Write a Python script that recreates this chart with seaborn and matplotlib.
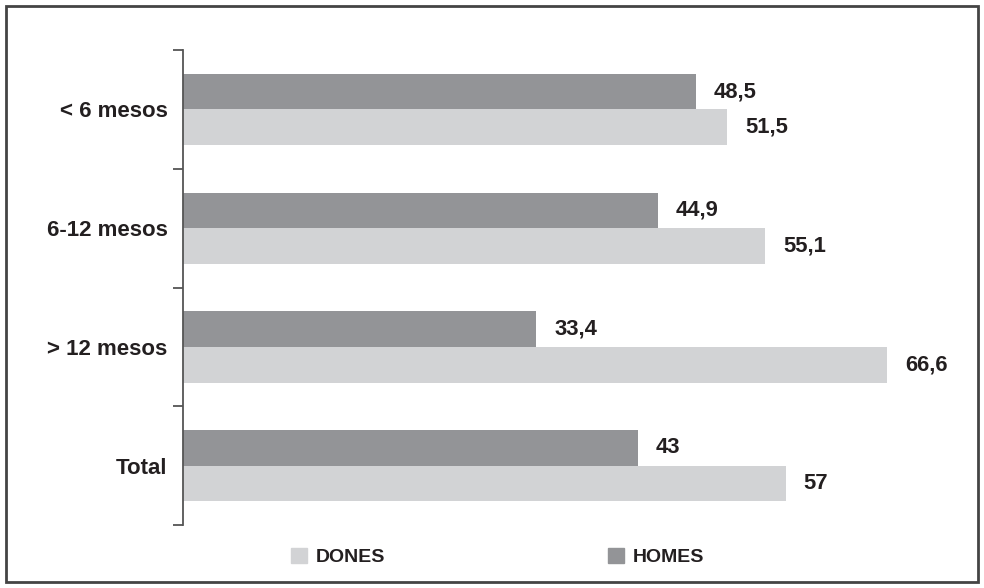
import matplotlib
matplotlib.use("Agg")
import matplotlib.pyplot as plt
import seaborn as sns
import pandas as pd
from matplotlib.patches import Patch, Rectangle

# Data
categories = ["< 6 mesos", "6-12 mesos", "> 12 mesos", "Total"]
homes = [48.5, 44.9, 33.4, 43]
dones = [51.5, 55.1, 66.6, 57]
series = ["HOMES", "DONES"]

homes_color = "#939497"
dones_color = "#d2d3d5"
text_color = "#231f20"
axis_color = "#555555"

df = pd.DataFrame({
    "categoria": categories * 2,
    "valor": homes + dones,
    "sexe": ["HOMES"] * len(categories) + ["DONES"] * len(categories),
})

sns.set_theme(style="white")
plt.rcParams["font.family"] = ["Liberation Sans", "DejaVu Sans"]
plt.rcParams["text.color"] = text_color

fig = plt.figure(figsize=(9.84, 5.88), dpi=100)
ax = fig.add_axes([183 / 984, 1 - 525 / 588, (960 - 183) / 984, 475 / 588])

sns.barplot(data=df, y="categoria", x="valor", hue="sexe", hue_order=series,
            order=categories, palette={"HOMES": homes_color, "DONES": dones_color},
            width=0.6, orient="h", ax=ax, legend=False, saturation=1,
            linewidth=0, edgecolor="none")

ax.set_xlim(0, 73.5)
ax.set_ylim(len(categories) - 0.5, -0.5)
ax.set_xlabel("")
ax.set_ylabel("")

def fmt(v):
    return f"{v:g}".replace(".", ",")

for cont, vals in zip(ax.containers, [homes, dones]):
    ax.bar_label(cont, labels=[fmt(v) for v in vals], padding=13,
                 fontsize=15.8, fontweight="bold", color=text_color)

# Axes styling: only the left spine with ticks at category boundaries
for s in ["top", "right", "bottom"]:
    ax.spines[s].set_visible(False)
ax.spines["left"].set_color(axis_color)
ax.spines["left"].set_linewidth(1.3)
ax.set_xticks([])
ax.set_yticks(range(len(categories)))
ax.set_yticklabels(categories, fontsize=16, fontweight="bold", color=text_color)
ax.set_yticks([i - 0.5 for i in range(len(categories) + 1)], minor=True)
ax.tick_params(axis="y", which="major", length=0, pad=11)
ax.tick_params(axis="y", which="minor", length=7.5, width=1.3, color=axis_color, left=True)

# Legend
handles = [Patch(color=dones_color, label="DONES"), Patch(color=homes_color, label="HOMES")]
fig.legend(handles=handles, loc="center", bbox_to_anchor=(497.5 / 984, 1 - 557 / 588),
           ncol=2, frameon=False, handlelength=0.8, handleheight=0.8,
           handletextpad=0.45, columnspacing=11.5,
           prop={"size": 14, "weight": "bold"}, labelcolor=text_color)

# Outer frame
fig.patches.append(Rectangle((6 / 984, 6 / 588), 972 / 984, 576 / 588,
                             transform=fig.transFigure, fill=False,
                             edgecolor="#444444", linewidth=2))

fig.savefig("out.png", dpi=100)
